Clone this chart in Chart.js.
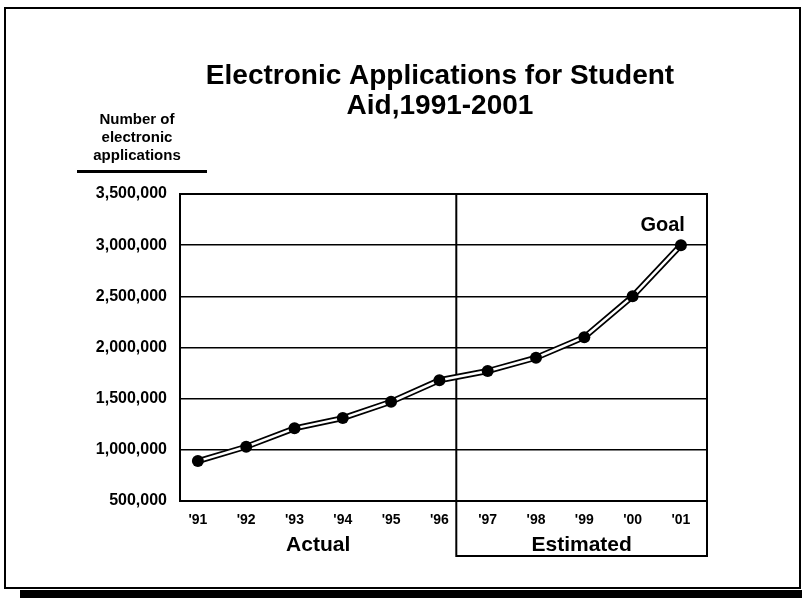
<!DOCTYPE html>
<html>
<head>
<meta charset="utf-8">
<script src="https://cdn.jsdelivr.net/npm/chart.js@4"></script>
<style>
  html, body { margin: 0; padding: 0; background: #fff; }
</style>
</head>
<body>
<canvas id="appsChart" width="802" height="598"></canvas>
<script>
const years = [1991, 1992, 1993, 1994, 1995, 1996, 1997, 1998, 1999, 2000, 2001];
const yearLabels = ["'91", "'92", "'93", "'94", "'95", "'96", "'97", "'98", "'99", "'00", "'01"];
const applications = [890000, 1030000, 1210000, 1310000, 1470000, 1680000, 1770000, 1900000, 2100000, 2500000, 3000000];
const yTicks = [500000, 1000000, 1500000, 2000000, 2500000, 3000000, 3500000];
const estimateFrom = 1996.35; // boundary between actual and estimated years
const titleLines = ['Electronic Applications for Student', 'Aid,1991-2001'];
const axisTitleLines = ['Number of', 'electronic', 'applications'];

const FONT = "'Liberation Sans', Arial, sans-serif";
const points = years.map((yr, i) => ({ x: yr, y: applications[i] }));

const decorations = {
    id: 'decorations',
    beforeDatasetsDraw(chart) {
        const { ctx, chartArea: a, scales: { x } } = chart;
        const xd = x.getPixelForValue(estimateFrom);
        const boxBottom = a.bottom + 55;
        ctx.save();
        ctx.strokeStyle = '#000';
        ctx.lineWidth = 2;
        ctx.beginPath();
        // top and right edges of the plot frame, plus the estimate box
        ctx.moveTo(a.left, a.top);
        ctx.lineTo(a.right, a.top);
        ctx.lineTo(a.right, boxBottom);
        ctx.lineTo(xd, boxBottom);
        ctx.lineTo(xd, a.top);
        ctx.stroke();
        ctx.restore();
    },
    afterDraw(chart) {
        const { ctx, chartArea: a, scales: { x, y } } = chart;
        const xd = x.getPixelForValue(estimateFrom);
        ctx.save();
        ctx.fillStyle = '#000';
        ctx.textAlign = 'center';
        ctx.textBaseline = 'middle';

        ctx.font = 'bold 28px ' + FONT;
        ctx.fillText(titleLines[0], 440, 76);
        ctx.fillText(titleLines[1], 440, 106);

        ctx.font = 'bold 15px ' + FONT;
        axisTitleLines.forEach((t, i) => ctx.fillText(t, 137, 120 + i * 18));
        ctx.fillRect(77, 170, 130, 3);

        ctx.font = 'bold 21px ' + FONT;
        ctx.fillText('Actual', (a.left + xd) / 2, a.bottom + 44);
        ctx.fillText('Estimated', (xd + a.right) / 2, a.bottom + 44);

        const last = points.length - 1;
        const gx = x.getPixelForValue(points[last].x);
        const gy = y.getPixelForValue(points[last].y);
        ctx.font = 'bold 20px ' + FONT;
        ctx.textAlign = 'right';
        ctx.textBaseline = 'alphabetic';
        ctx.fillText('Goal', gx + 4, gy - 14);

        // page frame
        ctx.lineWidth = 2;
        ctx.strokeStyle = '#000';
        ctx.strokeRect(5, 8, 795, 580);
        ctx.fillRect(20, 590, 782, 8);
        ctx.restore();
    }
};

new Chart(document.getElementById('appsChart'), {
    type: 'line',
    data: {
        datasets: [
            {
                data: points,
                borderColor: '#fff',
                borderWidth: 2.5,
                pointRadius: 6,
                pointBackgroundColor: '#000',
                pointBorderWidth: 0,
                tension: 0,
            },
            {
                data: points,
                borderColor: '#000',
                borderWidth: 6,
                pointRadius: 0,
                tension: 0,
            },
        ],
    },
    options: {
        responsive: false,
        devicePixelRatio: 1,
        animation: false,
        layout: { padding: { left: 5, right: 95, top: 194, bottom: 0 } },
        plugins: { legend: { display: false }, tooltip: { enabled: false } },
        scales: {
            x: {
                type: 'linear',
                min: 1990.63,
                max: 2001.54,
                afterBuildTicks: (s) => { s.ticks = years.map((v) => ({ value: v })); },
                afterFit: (s) => { s.height = 97; },
                ticks: {
                    callback: (v) => yearLabels[years.indexOf(v)],
                    color: '#000',
                    font: { family: FONT, size: 14, weight: 'bold' },
                    padding: 11,
                    maxRotation: 0,
                    autoSkip: false,
                },
                grid: { display: false, drawTicks: false },
                border: { display: true, color: '#000', width: 2 },
            },
            y: {
                min: 500000,
                max: 3500000,
                afterBuildTicks: (s) => { s.ticks = yTicks.map((v) => ({ value: v })); },
                afterFit: (s) => { s.width = 175; },
                ticks: {
                    callback: (v) => v.toLocaleString('en-US'),
                    color: '#000',
                    font: { family: FONT, size: 16, weight: 'bold' },
                    padding: 13,
                },
                grid: { color: '#000', lineWidth: 1.5, drawTicks: false },
                border: { display: true, color: '#000', width: 2 },
            },
        },
    },
    plugins: [decorations],
});
</script>
</body>
</html>
